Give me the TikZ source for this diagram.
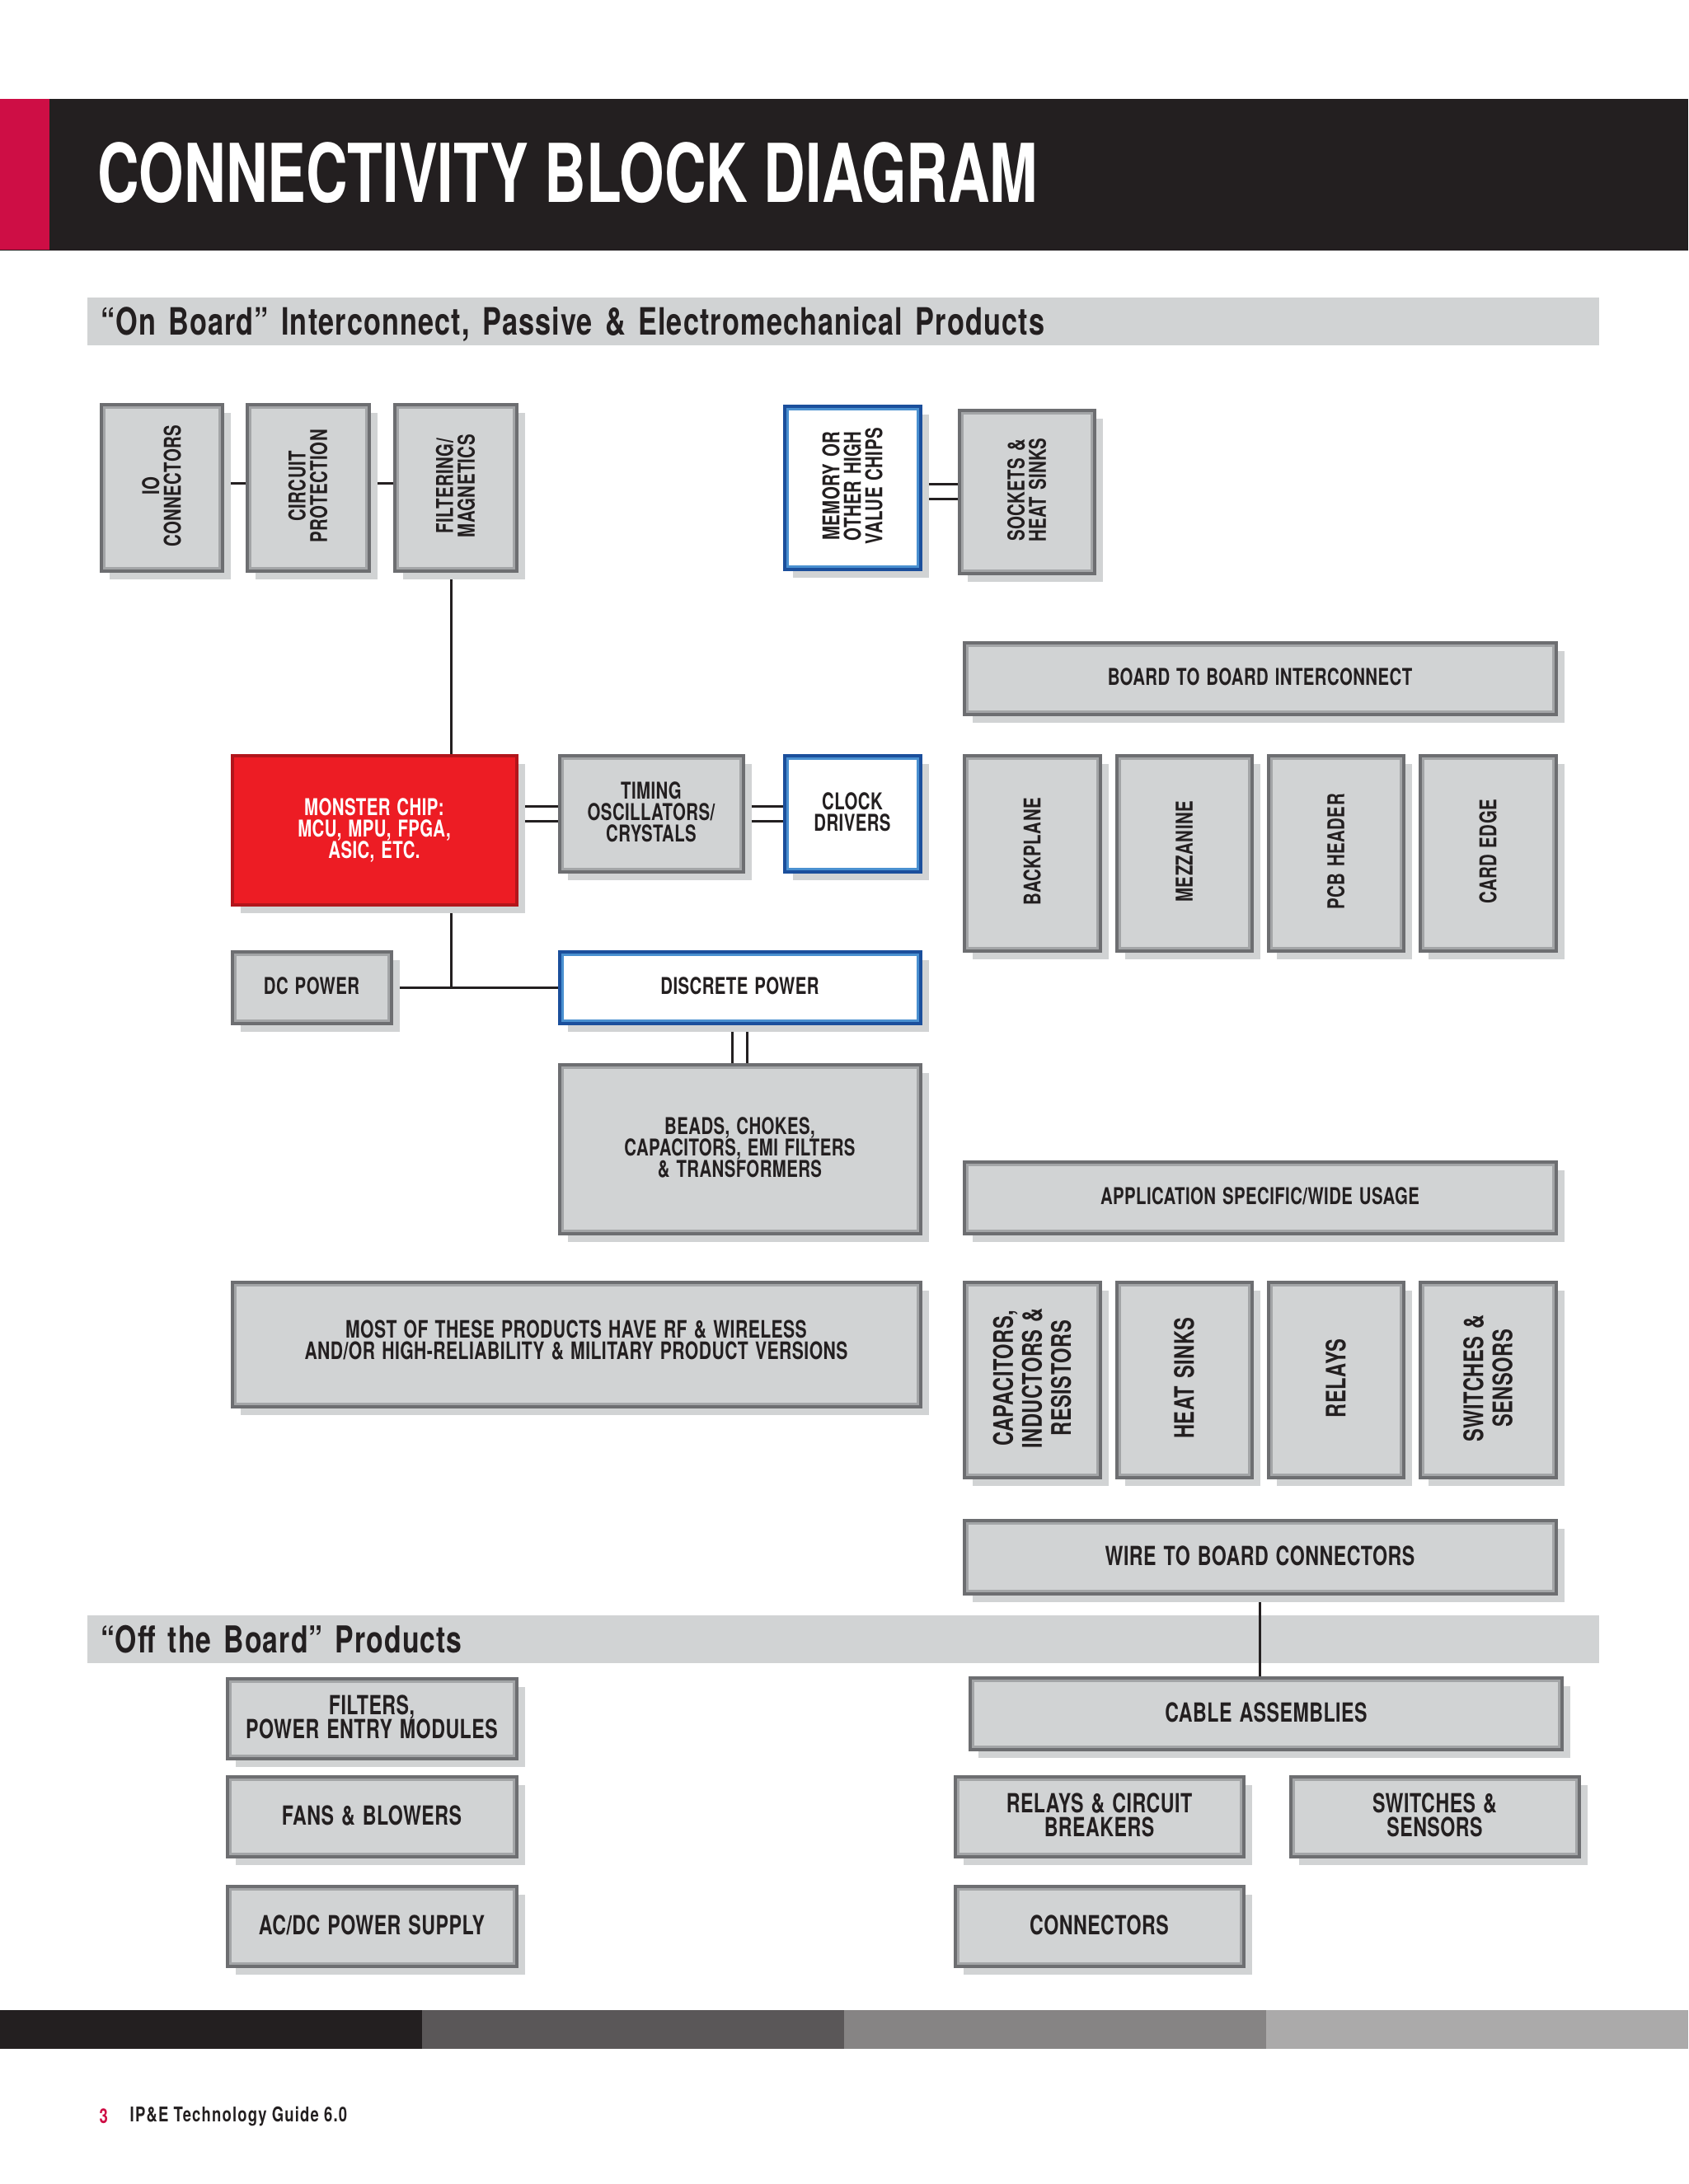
\documentclass[tikz,border=0pt]{standalone}
\usepackage{fontspec}
\usepackage{graphicx}
\usetikzlibrary{shadows, backgrounds}
\setmainfont[FakeStretch=0.725,LetterSpace=1.5,WordSpace=1.3]{TeX Gyre Heros}
\newfontfamily\titlefont[FakeStretch=0.712]{TeX Gyre Heros}
\newfontfamily\bandfont[FakeStretch=0.75,LetterSpace=2.5]{TeX Gyre Heros}
\newfontfamily\footfont[FakeStretch=0.75,LetterSpace=4.8]{TeX Gyre Heros}
\definecolor{ink}{HTML}{231F20}
\definecolor{crimson}{HTML}{CE0E45}
\definecolor{panel}{HTML}{D1D3D4}
\definecolor{edge}{HTML}{6D6E71}
\definecolor{edgein}{HTML}{A3A5A7}
\definecolor{blueedge}{HTML}{1B4F9C}
\definecolor{bluein}{HTML}{4A90D0}
\definecolor{chipred}{HTML}{ED1C24}
\newcommand{\vlabel}[1]{\rotatebox{90}{\parbox{1.9cm}{\centering #1}}}
\newcommand{\tightlines}{\lineskiplimit -5pt\relax}
\tikzset{
  box/.style={rectangle, draw=edge, line width=.04cm, fill=panel, inner sep=0pt, align=center,
    text=ink, text depth=1pt, font=\bfseries\fontsize{8}{7.4}\selectfont\tightlines,
    drop shadow={shadow xshift=.1cm, shadow yshift=-.1cm, fill=panel, opacity=1},
    path picture={\draw[edgein, line width=.1cm] (path picture bounding box.south west) rectangle (path picture bounding box.north east);}},
  bigbox/.style={box, font=\bfseries\fontsize{9.1}{8.4}\selectfont\tightlines},
  tallbox/.style={box, font=\bfseries\fontsize{9.3}{10}\selectfont\tightlines},
  bluebox/.style={box, draw=blueedge, fill=white,
    path picture={\draw[bluein, line width=.1cm] (path picture bounding box.south west) rectangle (path picture bounding box.north east);}},
  chip/.style={box, draw=chipred!75!black, fill=chipred, text=white, path picture={}},
  band/.style={rectangle, fill=panel, inner xsep=.16cm, inner ysep=0pt, minimum height=.58cm, text width=18.02cm,
    align=left, text=ink, text depth=.2pt, font=\bandfont\bfseries\fontsize{13}{15}\selectfont},
  wire/.style={ink, line width=.03cm}
}
\begin{document}
\begin{tikzpicture}
\useasboundingbox (0,0) rectangle (20.48,-26.5);
% page head and foot
\fill[ink] (0,-1.2) rectangle (20.48,-3.04);
\fill[crimson] (0,-1.2) rectangle (.6,-3.03);
\node[anchor=west, inner sep=0pt, text=white, font=\titlefont\bfseries\fontsize{28}{32}\selectfont] (title) at (1.18,-2.1) {CONNECTIVITY BLOCK DIAGRAM};
\fill[ink] (0,-24.39) rectangle (5.12,-24.86);
\fill[ink!75!white] (5.12,-24.39) rectangle (10.24,-24.86);
\fill[ink!55!white] (10.24,-24.39) rectangle (15.36,-24.86);
\fill[ink!38!white] (15.36,-24.39) rectangle (20.48,-24.86);
\node[anchor=west, inner sep=0pt, text=crimson, font=\footfont\bfseries\fontsize{7}{8}\selectfont] (pagenum) at (1.2,-25.68) {3};
\node[anchor=west, inner sep=0pt, text=ink, font=\footfont\bfseries\fontsize{7}{8}\selectfont] (guide) at (1.57,-25.68) {IP\&E Technology Guide 6.0};

% on board
\node[box, minimum width=1.47cm, minimum height=2.02cm] (io) at (1.96,-5.915) {\vlabel{IO\\CONNECTORS}};
\node[box, minimum width=1.48cm, minimum height=2.02cm] (prot) at (3.735,-5.915) {\vlabel{CIRCUIT\\PROTECTION}};
\node[box, minimum width=1.48cm, minimum height=2.02cm] (filt) at (5.525,-5.915) {\vlabel{FILTERING/\\MAGNETICS}};
\node[bluebox, minimum width=1.65cm, minimum height=1.98cm] (mem) at (10.34,-5.915) {\vlabel{MEMORY OR\\OTHER HIGH\\VALUE CHIPS}};
\node[box, minimum width=1.64cm, minimum height=1.98cm] (sock) at (12.455,-5.965) {\vlabel{SOCKETS \&\\HEAT SINKS}};
\node[box, minimum width=7.18cm, minimum height=.87cm] (b2b) at (15.285,-8.23) {BOARD TO BOARD INTERCONNECT};
\node[box, minimum width=1.65cm, minimum height=2.37cm] (bp) at (12.52,-10.35) {\vlabel{BACKPLANE}};
\node[box, minimum width=1.64cm, minimum height=2.37cm] (mez) at (14.365,-10.35) {\vlabel{MEZZANINE}};
\node[box, minimum width=1.64cm, minimum height=2.37cm] (pcb) at (16.205,-10.35) {\vlabel{PCB HEADER}};
\node[box, minimum width=1.65cm, minimum height=2.37cm] (card) at (18.05,-10.35) {\vlabel{CARD EDGE}};
\node[chip, minimum width=3.45cm, minimum height=1.81cm] (monster) at (4.54,-10.07) {MONSTER CHIP:\\MCU, MPU, FPGA,\\ASIC, ETC.};
\node[box, minimum width=2.23cm, minimum height=1.41cm] (timing) at (7.9,-9.87) {TIMING\\OSCILLATORS/\\CRYSTALS};
\node[bluebox, minimum width=1.65cm, minimum height=1.41cm] (clock) at (10.34,-9.87) {CLOCK\\DRIVERS};
\node[box, minimum width=1.93cm, minimum height=.87cm] (dc) at (3.78,-11.98) {DC POWER};
\node[bluebox, minimum width=4.38cm, minimum height=.87cm] (disc) at (8.975,-11.98) {DISCRETE POWER};
\node[box, minimum width=4.38cm, minimum height=2.05cm] (beads) at (8.975,-13.94) {BEADS, CHOKES,\\CAPACITORS, EMI FILTERS\\\& TRANSFORMERS};
\node[box, minimum width=7.18cm, minimum height=.87cm] (app) at (15.285,-14.53) {APPLICATION SPECIFIC/WIDE USAGE};
\node[box, text depth=3pt, font=\bfseries\fontsize{8.3}{7.4}\selectfont\tightlines, minimum width=8.35cm, minimum height=1.51cm] (most) at (6.99,-16.31) {MOST OF THESE PRODUCTS HAVE RF \& WIRELESS\\AND/OR HIGH-RELIABILITY \& MILITARY PRODUCT VERSIONS};
\node[tallbox, minimum width=1.65cm, minimum height=2.37cm] (caps) at (12.52,-16.74) {\vlabel{CAPACITORS,\\INDUCTORS \&\\RESISTORS}};
\node[tallbox, minimum width=1.64cm, minimum height=2.37cm] (sinks) at (14.365,-16.74) {\vlabel{HEAT SINKS}};
\node[tallbox, minimum width=1.64cm, minimum height=2.37cm] (relays) at (16.205,-16.74) {\vlabel{RELAYS}};
\node[tallbox, minimum width=1.65cm, minimum height=2.37cm] (sw) at (18.05,-16.74) {\vlabel{SWITCHES \&\\SENSORS}};
\node[bigbox, minimum width=7.18cm, minimum height=.89cm] (wtb) at (15.285,-18.89) {WIRE TO BOARD CONNECTORS};

% off the board
\node[bigbox, minimum width=7.18cm, minimum height=.87cm] (cable) at (15.36,-20.79) {CABLE ASSEMBLIES};
\node[bigbox, minimum width=3.51cm, minimum height=.97cm] (emi) at (4.51,-20.85) {FILTERS,\\POWER ENTRY MODULES};
\node[bigbox, minimum width=3.51cm, minimum height=.97cm] (fans) at (4.51,-22.04) {FANS \& BLOWERS};
\node[bigbox, minimum width=3.51cm, minimum height=.97cm] (acdc) at (4.51,-23.37) {AC/DC POWER SUPPLY};
\node[bigbox, minimum width=3.5cm, minimum height=.97cm] (breakers) at (13.335,-22.04) {RELAYS \& CIRCUIT\\BREAKERS};
\node[bigbox, minimum width=3.5cm, minimum height=.97cm] (switches) at (17.405,-22.04) {SWITCHES \&\\SENSORS};
\node[bigbox, minimum width=3.5cm, minimum height=.97cm] (conn) at (13.335,-23.37) {CONNECTORS};

\begin{pgfonlayer}{background}
\node[band] (onboard) at (10.23,-3.895) {“On Board” Interconnect, Passive \& Electromechanical Products};
\node[band, font=\bandfont\bfseries\fontsize{12.8}{15}\selectfont] (offboard) at (10.23,-19.89) {“Off the Board” Products};
\coordinate (jct) at (5.47,-11.98);
\draw[wire] ([yshift=.05cm]io.east) -- ([yshift=.05cm]prot.west);
\draw[wire] ([yshift=.05cm]prot.east) -- ([yshift=.05cm]filt.west);
\draw[wire] (jct |- filt.south) -- (jct |- monster.north);
\draw[wire] (jct |- monster.south) -- (jct);
\draw[wire] (dc.east) -- (disc.west);
\foreach \s in {-.09,.09} {
    \draw[wire] ([yshift=\s cm]timing.west) -- ([yshift=\s cm]timing.west -| monster.east);
    \draw[wire] ([yshift=\s cm]timing.east) -- ([yshift=\s cm]clock.west);
    \draw[wire] ([yshift=\s cm]sock.west) -- ([yshift=\s cm]sock.west -| mem.east);
    \draw[wire] ([xshift=\s cm]disc.south) -- ([xshift=\s cm]disc.south |- beads.north);
}
\draw[wire] (wtb.south) -- (wtb.south |- cable.north);
\end{pgfonlayer}
\end{tikzpicture}
\end{document}
